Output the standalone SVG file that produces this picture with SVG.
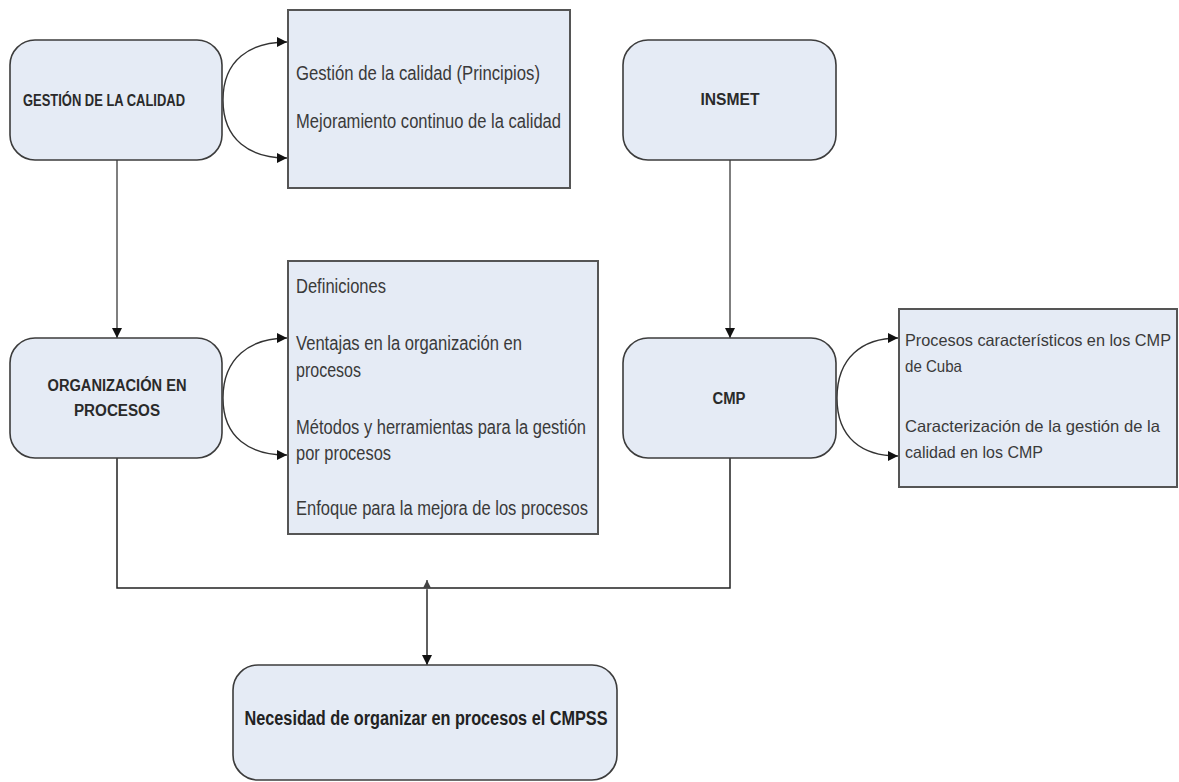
<svg xmlns="http://www.w3.org/2000/svg" width="1179" height="782" viewBox="0 0 1179 782">
<style>
.node{fill:#e5ebf5;stroke:#3c3c3c;stroke-width:1.6}
.box{fill:#e5ebf5;stroke:#555;stroke-width:2}
.lbl{font-family:"Liberation Sans",Arial,sans-serif;font-weight:bold;font-size:16px;fill:#2a2a2a;text-anchor:middle}
.big{font-family:"Liberation Sans",Arial,sans-serif;font-weight:bold;font-size:20px;fill:#222;text-anchor:middle}
.itm{font-family:"Liberation Sans",Arial,sans-serif;font-size:20px;fill:#3a3a3a}
.itm2{font-family:"Liberation Sans",Arial,sans-serif;font-size:16.5px;fill:#3a3a3a}
.con{fill:none;stroke:#555;stroke-width:1.5}
.cur{fill:none;stroke:#333;stroke-width:1.4}
</style>
<defs>
<marker id="ah" viewBox="0 0 10 10" refX="10" refY="5" markerWidth="10" markerHeight="10" markerUnits="userSpaceOnUse" orient="auto">
<path d="M0,0 L10,5 L0,10 z" fill="#111"/>
</marker>
<marker id="ahs" viewBox="0 0 10 10" refX="10" refY="5" markerWidth="8" markerHeight="8" markerUnits="userSpaceOnUse" orient="auto">
<path d="M0,0 L10,5 L0,10 z" fill="#444"/>
</marker>
</defs>
<rect width="1179" height="782" fill="#fff"/>

<g id="connectors">
<path class="cur" d="M223,100 C223,60 250,42 287,42" marker-end="url(#ah)"/>
<path class="cur" d="M223,100 C223,140 250,158 287,158" marker-end="url(#ah)"/>
<path class="cur" d="M223,398 C223,358 250,338 287,338" marker-end="url(#ah)"/>
<path class="cur" d="M223,398 C223,438 250,455 287,455" marker-end="url(#ah)"/>
<path class="cur" d="M837,398 C837,358 862,338 898,338" marker-end="url(#ah)"/>
<path class="cur" d="M837,398 C837,438 862,456 898,456" marker-end="url(#ah)"/>
<path class="con" d="M117,160 L117,338" marker-end="url(#ah)"/>
<path class="con" d="M730,160 L730,338" marker-end="url(#ah)"/>
<path d="M117,458 L117,588 L730,588 L730,458" fill="none" stroke="#222" stroke-width="1.5"/>
<path class="con" d="M427,664 L427,580" marker-end="url(#ahs)"/>
<path class="con" d="M427,590 L427,665" marker-end="url(#ah)"/>
</g>

<g id="gestion">
<rect class="node" x="10" y="40" width="212" height="120" rx="25"/>
<text class="lbl" x="104" y="106" textLength="162" lengthAdjust="spacingAndGlyphs">GESTIÓN DE LA CALIDAD</text>
</g>

<g id="box-gestion">
<rect class="box" x="288" y="10" width="282" height="178"/>
<text class="itm" x="296" y="80" textLength="244" lengthAdjust="spacingAndGlyphs">Gestión de la calidad (Principios)</text>
<text class="itm" x="296" y="128" textLength="265" lengthAdjust="spacingAndGlyphs">Mejoramiento continuo de la calidad</text>
</g>

<g id="insmet">
<rect class="node" x="623" y="40" width="213" height="120" rx="25"/>
<text class="lbl" x="730" y="105" textLength="59" lengthAdjust="spacingAndGlyphs">INSMET</text>
</g>

<g id="organizacion">
<rect class="node" x="10" y="338" width="212" height="120" rx="25"/>
<text class="lbl" x="117" y="391" textLength="139" lengthAdjust="spacingAndGlyphs">ORGANIZACIÓN EN</text>
<text class="lbl" x="117" y="416" textLength="86" lengthAdjust="spacingAndGlyphs">PROCESOS</text>
</g>

<g id="box-organizacion">
<rect class="box" x="288" y="261" width="310" height="273"/>
<text class="itm" x="296" y="293" textLength="90" lengthAdjust="spacingAndGlyphs">Definiciones</text>
<text class="itm" x="296" y="350" textLength="226" lengthAdjust="spacingAndGlyphs">Ventajas en la organización en</text>
<text class="itm" x="296" y="377" textLength="65" lengthAdjust="spacingAndGlyphs">procesos</text>
<text class="itm" x="296" y="434" textLength="290" lengthAdjust="spacingAndGlyphs">Métodos y herramientas para la gestión</text>
<text class="itm" x="296" y="460" textLength="95" lengthAdjust="spacingAndGlyphs">por procesos</text>
<text class="itm" x="296" y="515" textLength="292" lengthAdjust="spacingAndGlyphs">Enfoque para la mejora de los procesos</text>
</g>

<g id="cmp">
<rect class="node" x="623" y="338" width="213" height="120" rx="25"/>
<text class="lbl" x="729" y="404" textLength="33" lengthAdjust="spacingAndGlyphs">CMP</text>
</g>

<g id="box-cmp">
<rect class="box" x="899" y="309" width="278" height="178"/>
<text class="itm2" x="905" y="346" textLength="266" lengthAdjust="spacingAndGlyphs">Procesos característicos en los CMP</text>
<text class="itm2" x="905" y="372" textLength="57" lengthAdjust="spacingAndGlyphs">de Cuba</text>
<text class="itm2" x="905" y="432" textLength="255" lengthAdjust="spacingAndGlyphs">Caracterización de la gestión de la</text>
<text class="itm2" x="905" y="458" textLength="138" lengthAdjust="spacingAndGlyphs">calidad en los CMP</text>
</g>

<g id="necesidad">
<rect class="node" x="233" y="665" width="384" height="115" rx="25"/>
<text class="big" x="426" y="725" textLength="363" lengthAdjust="spacingAndGlyphs">Necesidad de organizar en procesos el CMPSS</text>
</g>
</svg>
